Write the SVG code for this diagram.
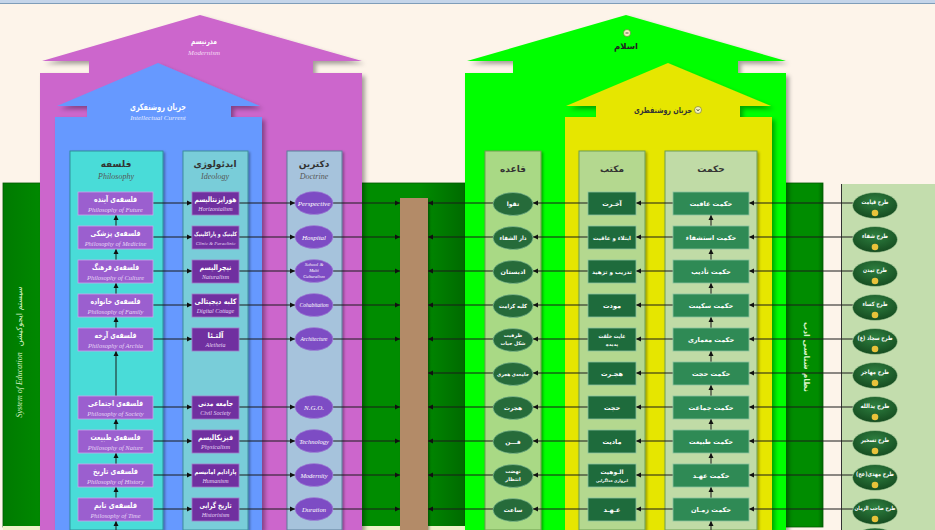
<svg xmlns="http://www.w3.org/2000/svg" width="935" height="530" viewBox="0 0 935 530">
<defs>
<style>
.fa{font-family:"DejaVu Sans","Noto Sans",sans-serif;font-weight:bold;text-anchor:middle}
.en{font-family:"Liberation Serif",serif;font-style:italic;text-anchor:middle}
.hd{font-size:9px;fill:#333}
.hde{font-size:8px;fill:#555}
.pn{fill:#9B5FCF;stroke:#C9A6EC;stroke-width:0.8}
.idn{fill:#7030A0;stroke:#A27CC8;stroke-width:0.8}
.dn{fill:#7D4CC4;stroke:#A58AD8;stroke-width:0.6}
.hk{fill:#2F8A55;stroke:#8CC4A0;stroke-width:0.8}
.mk{fill:#1E6B3C;stroke:#8CC4A0;stroke-width:0.8}
.qe{fill:#266B3A;stroke:#8CC4A0;stroke-width:0.6}
.rp{fill:url(#gEl);stroke:#B8D8A8;stroke-width:0.6}
.w1{font-size:8px;fill:#fff}
.w2{font-size:6.5px;fill:#E6D6F6}
.w3{font-size:7.5px;fill:#fff}
.w4{font-size:6px;fill:#E6D6F6}
.w5{font-size:6px;fill:#fff}
.w6{font-size:6.5px;fill:#fff}
.w7{font-size:6px;fill:#fff}
.cn line{stroke:#1a1a1a;stroke-width:1;fill:none}
.ar{marker-end:url(#ah)}
</style>
<marker id="ah" markerUnits="userSpaceOnUse" markerWidth="6" markerHeight="6" refX="5" refY="3" orient="auto"><path d="M0,0.5 L5,3 L0,5.5 Z" fill="#111"/></marker>
<filter id="sh" x="-10%" y="-10%" width="130%" height="130%"><feDropShadow dx="3" dy="3" stdDeviation="2" flood-color="#000" flood-opacity="0.35"/></filter>
<filter id="sh2" x="-10%" y="-10%" width="130%" height="130%"><feDropShadow dx="1.5" dy="1.5" stdDeviation="1" flood-color="#000" flood-opacity="0.35"/></filter>
<radialGradient id="gEl" cx="50%" cy="35%" r="60%"><stop offset="0" stop-color="#2E8040"/><stop offset="1" stop-color="#174F22"/></radialGradient>
<linearGradient id="gDg" x1="0" y1="0" x2="1" y2="0"><stop offset="0" stop-color="#007A00"/><stop offset="0.1" stop-color="#008C00"/><stop offset="0.9" stop-color="#008C00"/><stop offset="1" stop-color="#006A00"/></linearGradient>
</defs>

<rect x="0" y="0" width="935" height="530" fill="#FDF4EA"/>
<rect x="0" y="0" width="935" height="3" fill="#C5D5EA"/>
<line x1="0" y1="3.5" x2="935" y2="3.5" stroke="#7F9DB9" stroke-width="1"/>

<g id="band-left">
<rect x="3" y="183" width="462" height="344" fill="url(#gDg)" stroke="#005A00" stroke-width="0.8"/>
<rect x="3" y="526" width="462" height="4" fill="#EEF2C8"/>
<text transform="translate(22,352) rotate(-90)" text-anchor="middle" fill="#D8F2C8" font-size="8"><tspan font-family="Liberation Serif,serif" font-style="italic">System of Education</tspan><tspan font-family="DejaVu Sans,sans-serif" dx="6">سیستم ایجوکیشن</tspan></text>
</g>
<g id="band-right">
<rect x="772" y="183" width="51" height="344" fill="url(#gDg)" stroke="#005A00" stroke-width="0.8"/>
<text class="fa" transform="translate(804,357) rotate(90)" fill="#D8F2C8" font-size="8" font-weight="normal">نظام شناسی ادب</text>
</g>
<g id="panel-right">
<rect x="841" y="184" width="94" height="346" fill="#C3DDAD"/>
<line x1="841.5" y1="184" x2="841.5" y2="530" stroke="#333" stroke-width="1"/>
</g>

<g id="modernism">
<path d="M42,61 L200,15 L362,61 L313,61 L313,73 L362,73 L362,530 L40,530 L40,73 L89,73 L89,61 Z" fill="#CC66CC" filter="url(#sh)"/>
<text class="fa" x="204" y="44" font-size="8" fill="#fff" textLength="26" lengthAdjust="spacingAndGlyphs">مدرنیسم</text>
<text class="en" x="204" y="55" font-size="7" fill="#F4DDF4">Modernism</text>
</g>
<g id="intellectual-current">
<path d="M57,106 L158,63 L260,106 L231,106 L231,117 L262,117 L262,530 L55,530 L55,117 L87,117 L87,106 Z" fill="#6699FF" filter="url(#sh)"/>
<text class="fa" x="158" y="110" font-size="9" fill="#fff" textLength="56" lengthAdjust="spacingAndGlyphs">جریان روشنفکری</text>
<text class="en" x="158" y="120" font-size="7" fill="#E6EEFF">Intellectual Current</text>
</g>

<g id="islam">
<path d="M467,61 L626,15 L786,61 L738,61 L738,73 L786,73 L786,530 L465,530 L465,73 L513,73 L513,61 Z" fill="#00FF00" filter="url(#sh)"/>
<circle cx="627" cy="33" r="3.5" fill="#F2F2C0" stroke="#6A6A30" stroke-width="0.6"/>
<line x1="625.5" y1="33" x2="628.5" y2="33" stroke="#333" stroke-width="0.8"/>
<text class="fa" x="626" y="49" font-size="8.5" fill="#222" textLength="24" lengthAdjust="spacingAndGlyphs">اسلام</text>
</g>
<g id="roshanfetri">
<path d="M566,106 L668,63 L771,106 L740,106 L740,117 L772,117 L772,530 L565,530 L565,117 L596,117 L596,106 Z" fill="#E6E600" filter="url(#sh)"/>
<text class="fa" x="663" y="113" font-size="8.5" fill="#333" textLength="58" lengthAdjust="spacingAndGlyphs">جریان روشنفطری</text>
<circle cx="698" cy="110" r="3.5" fill="#F2F2C0" stroke="#6A6A30" stroke-width="0.6"/>
<path d="M696.5,109 L698,111 L699.5,109" stroke="#333" stroke-width="0.7" fill="none"/>
</g>

<g id="col-philosophy">
<rect x="70" y="151" width="93" height="379" fill="#4ADCD8" stroke="#2E8E9A" stroke-width="1" filter="url(#sh2)"/>
<text class="fa hd" x="116" y="167">فلسفه</text>
<text class="en hde" x="116" y="179">Philosophy</text>
</g>
<g id="col-ideology">
<rect x="183" y="151" width="65" height="379" fill="#79CDD9" stroke="#3E8E9E" stroke-width="1" filter="url(#sh2)"/>
<text class="fa hd" x="215" y="167">ایدئولوژی</text>
<text class="en hde" x="215" y="179">Ideology</text>
</g>
<g id="col-doctrine">
<rect x="287" y="151" width="55" height="379" fill="#A6C3DC" stroke="#5E7E9A" stroke-width="1" filter="url(#sh2)"/>
<text class="fa hd" x="314" y="167">دکترین</text>
<text class="en hde" x="314" y="179">Doctrine</text>
</g>
<g id="col-qaede">
<rect x="485" y="151" width="56" height="379" fill="#A9D985" stroke="#6E9E50" stroke-width="1" filter="url(#sh2)"/>
<text class="fa hd" x="513" y="172">قاعده</text>
</g>
<g id="col-maktab">
<rect x="579" y="151" width="66" height="379" fill="#B4D88F" stroke="#6E9E50" stroke-width="1" filter="url(#sh2)"/>
<text class="fa hd" x="612" y="172">مکتب</text>
</g>
<g id="col-hekmat">
<rect x="665" y="151" width="92" height="379" fill="#C0DBA6" stroke="#6E9E50" stroke-width="1" filter="url(#sh2)"/>
<text class="fa hd" x="711" y="172">حکمت</text>
</g>

<g id="bar-center">
<rect x="400" y="198" width="28" height="332" fill="#B38B68" filter="url(#sh2)"/>
</g>

<g id="connectors" class="cn">
<line class="ar" x1="116" y1="226" x2="116" y2="215"/>
<line class="ar" x1="116" y1="260" x2="116" y2="249"/>
<line class="ar" x1="116" y1="294" x2="116" y2="283"/>
<line class="ar" x1="116" y1="328" x2="116" y2="317"/>
<line class="ar" x1="116" y1="396" x2="116" y2="351"/>
<line class="ar" x1="116" y1="430" x2="116" y2="419"/>
<line class="ar" x1="116" y1="464" x2="116" y2="453"/>
<line class="ar" x1="116" y1="498" x2="116" y2="487"/>
<line class="ar" x1="116" y1="530" x2="116" y2="521"/>
<line class="ar" x1="711" y1="226" x2="711" y2="215"/>
<line class="ar" x1="711" y1="260" x2="711" y2="249"/>
<line class="ar" x1="711" y1="294" x2="711" y2="283"/>
<line class="ar" x1="711" y1="328" x2="711" y2="317"/>
<line class="ar" x1="711" y1="362" x2="711" y2="351"/>
<line class="ar" x1="711" y1="396" x2="711" y2="385"/>
<line class="ar" x1="711" y1="430" x2="711" y2="419"/>
<line class="ar" x1="711" y1="464" x2="711" y2="453"/>
<line class="ar" x1="711" y1="498" x2="711" y2="487"/>
<line class="ar" x1="711" y1="530" x2="711" y2="521"/>
<line class="ar" x1="153" y1="203" x2="192" y2="203"/><line class="ar" x1="239" y1="203" x2="295" y2="203"/><line class="ar" x1="333" y1="203" x2="400" y2="203"/>
<line class="ar" x1="153" y1="237" x2="192" y2="237"/><line class="ar" x1="239" y1="237" x2="295" y2="237"/><line class="ar" x1="333" y1="237" x2="400" y2="237"/>
<line class="ar" x1="153" y1="271" x2="192" y2="271"/><line class="ar" x1="239" y1="271" x2="295" y2="271"/><line class="ar" x1="333" y1="271" x2="400" y2="271"/>
<line class="ar" x1="153" y1="305" x2="192" y2="305"/><line class="ar" x1="239" y1="305" x2="295" y2="305"/><line class="ar" x1="333" y1="305" x2="400" y2="305"/>
<line class="ar" x1="153" y1="339" x2="192" y2="339"/><line class="ar" x1="239" y1="339" x2="295" y2="339"/><line class="ar" x1="333" y1="339" x2="400" y2="339"/>
<line class="ar" x1="153" y1="407" x2="192" y2="407"/><line class="ar" x1="239" y1="407" x2="295" y2="407"/><line class="ar" x1="333" y1="407" x2="400" y2="407"/>
<line class="ar" x1="153" y1="441" x2="192" y2="441"/><line class="ar" x1="239" y1="441" x2="295" y2="441"/><line class="ar" x1="333" y1="441" x2="400" y2="441"/>
<line class="ar" x1="153" y1="475" x2="192" y2="475"/><line class="ar" x1="239" y1="475" x2="295" y2="475"/><line class="ar" x1="333" y1="475" x2="400" y2="475"/>
<line class="ar" x1="153" y1="509" x2="192" y2="509"/><line class="ar" x1="239" y1="509" x2="295" y2="509"/><line class="ar" x1="333" y1="509" x2="400" y2="509"/>
<line class="ar" x1="853" y1="203" x2="749" y2="203"/><line class="ar" x1="673" y1="203" x2="636" y2="203"/><line class="ar" x1="588" y1="203" x2="533" y2="203"/><line class="ar" x1="493" y1="203" x2="428" y2="203"/>
<line class="ar" x1="853" y1="237" x2="749" y2="237"/><line class="ar" x1="673" y1="237" x2="636" y2="237"/><line class="ar" x1="588" y1="237" x2="533" y2="237"/><line class="ar" x1="493" y1="237" x2="428" y2="237"/>
<line class="ar" x1="853" y1="271" x2="749" y2="271"/><line class="ar" x1="673" y1="271" x2="636" y2="271"/><line class="ar" x1="588" y1="271" x2="533" y2="271"/><line class="ar" x1="493" y1="271" x2="428" y2="271"/>
<line class="ar" x1="853" y1="305" x2="749" y2="305"/><line class="ar" x1="673" y1="305" x2="636" y2="305"/><line class="ar" x1="588" y1="305" x2="533" y2="305"/><line class="ar" x1="493" y1="305" x2="428" y2="305"/>
<line class="ar" x1="853" y1="339" x2="749" y2="339"/><line class="ar" x1="673" y1="339" x2="636" y2="339"/><line class="ar" x1="588" y1="339" x2="533" y2="339"/><line class="ar" x1="493" y1="339" x2="428" y2="339"/>
<line class="ar" x1="853" y1="373" x2="749" y2="373"/><line class="ar" x1="673" y1="373" x2="636" y2="373"/><line class="ar" x1="588" y1="373" x2="533" y2="373"/><line class="ar" x1="493" y1="373" x2="428" y2="373"/>
<line class="ar" x1="853" y1="407" x2="749" y2="407"/><line class="ar" x1="673" y1="407" x2="636" y2="407"/><line class="ar" x1="588" y1="407" x2="533" y2="407"/><line class="ar" x1="493" y1="407" x2="428" y2="407"/>
<line class="ar" x1="853" y1="441" x2="749" y2="441"/><line class="ar" x1="673" y1="441" x2="636" y2="441"/><line class="ar" x1="588" y1="441" x2="533" y2="441"/><line class="ar" x1="493" y1="441" x2="428" y2="441"/>
<line class="ar" x1="853" y1="475" x2="749" y2="475"/><line class="ar" x1="673" y1="475" x2="636" y2="475"/><line class="ar" x1="588" y1="475" x2="533" y2="475"/><line class="ar" x1="493" y1="475" x2="428" y2="475"/>
<line class="ar" x1="853" y1="509" x2="749" y2="509"/><line class="ar" x1="673" y1="509" x2="636" y2="509"/><line class="ar" x1="588" y1="509" x2="533" y2="509"/><line class="ar" x1="493" y1="509" x2="428" y2="509"/>
</g>

<g id="p1"><rect class="pn" x="78" y="192" width="75" height="23"/><text class="fa w1" x="115.5" y="202" textLength="43" lengthAdjust="spacingAndGlyphs">فلسفه‌ی آینده</text><text class="en w2" x="115.5" y="211.5">Philosophy of Future</text></g>
<g id="p2"><rect class="pn" x="78" y="226" width="75" height="23"/><text class="fa w1" x="115.5" y="236" textLength="50" lengthAdjust="spacingAndGlyphs">فلسفه‌ی پزشکی</text><text class="en w2" x="115.5" y="245.5">Philosophy of Medicine</text></g>
<g id="p3"><rect class="pn" x="78" y="260" width="75" height="23"/><text class="fa w1" x="115.5" y="270" textLength="47" lengthAdjust="spacingAndGlyphs">فلسفه‌ی فرهنگ</text><text class="en w2" x="115.5" y="279.5">Philosophy of Culture</text></g>
<g id="p4"><rect class="pn" x="78" y="294" width="75" height="23"/><text class="fa w1" x="115.5" y="304" textLength="50" lengthAdjust="spacingAndGlyphs">فلسفه‌ی خانواده</text><text class="en w2" x="115.5" y="313.5">Philosophy of Family</text></g>
<g id="p5"><rect class="pn" x="78" y="328" width="75" height="23"/><text class="fa w1" x="115.5" y="338" textLength="42" lengthAdjust="spacingAndGlyphs">فلسفه‌ی آرخه</text><text class="en w2" x="115.5" y="347.5">Philosophy of Archia</text></g>
<g id="p6"><rect class="pn" x="78" y="396" width="75" height="23"/><text class="fa w1" x="115.5" y="406" textLength="55" lengthAdjust="spacingAndGlyphs">فلسفه‌ی اجتماعی</text><text class="en w2" x="115.5" y="415.5">Philosophy of Society</text></g>
<g id="p7"><rect class="pn" x="78" y="430" width="75" height="23"/><text class="fa w1" x="115.5" y="440" textLength="50" lengthAdjust="spacingAndGlyphs">فلسفه‌ی طبیعت</text><text class="en w2" x="115.5" y="449.5">Philosophy of Nature</text></g>
<g id="p8"><rect class="pn" x="78" y="464" width="75" height="23"/><text class="fa w1" x="115.5" y="474" textLength="45" lengthAdjust="spacingAndGlyphs">فلسفه‌ی تاریخ</text><text class="en w2" x="115.5" y="483.5">Philosophy of History</text></g>
<g id="p9"><rect class="pn" x="78" y="498" width="75" height="23"/><text class="fa w1" x="115.5" y="508" textLength="43" lengthAdjust="spacingAndGlyphs">فلسفه‌ی تایم</text><text class="en w2" x="115.5" y="517.5">Philosophy of Time</text></g>

<g id="i1"><rect class="idn" x="192" y="192" width="47" height="23"/><text class="fa w3" x="215.5" y="202" textLength="42" lengthAdjust="spacingAndGlyphs">هورایزنتالیسم</text><text class="en w4" x="215.5" y="211">Horizontalism</text></g>
<g id="i2"><rect class="idn" x="192" y="226" width="47" height="23"/><text class="fa" x="215.5" y="235.5" font-size="6" fill="#fff" textLength="43" lengthAdjust="spacingAndGlyphs">کلینیک و پاراکلینیک</text><text class="en" x="215.5" y="245" font-size="5" fill="#E6D6F6">Clinic &amp; Paraclinic</text></g>
<g id="i3"><rect class="idn" x="192" y="260" width="47" height="23"/><text class="fa w3" x="215.5" y="270" textLength="32" lengthAdjust="spacingAndGlyphs">نیچرالیسم</text><text class="en w4" x="215.5" y="279">Naturalism</text></g>
<g id="i4"><rect class="idn" x="192" y="294" width="47" height="23"/><text class="fa w3" x="215.5" y="304" textLength="42" lengthAdjust="spacingAndGlyphs">کلبه دیجیتالی</text><text class="en w4" x="215.5" y="313">Digital Cottage</text></g>
<g id="i5"><rect class="idn" x="192" y="328" width="47" height="23"/><text class="fa w3" x="215.5" y="338" textLength="16" lengthAdjust="spacingAndGlyphs">آلتـئا</text><text class="en w4" x="215.5" y="347">Aletheia</text></g>
<g id="i6"><rect class="idn" x="192" y="396" width="47" height="23"/><text class="fa w3" x="215.5" y="406" textLength="35" lengthAdjust="spacingAndGlyphs">جامعه مدنی</text><text class="en w4" x="215.5" y="415">Civil Society</text></g>
<g id="i7"><rect class="idn" x="192" y="430" width="47" height="23"/><text class="fa w3" x="215.5" y="440" textLength="35" lengthAdjust="spacingAndGlyphs">فیزیکالیسم</text><text class="en w4" x="215.5" y="449">Physicalism</text></g>
<g id="i8"><rect class="idn" x="192" y="464" width="47" height="23"/><text class="fa" x="215.5" y="474" font-size="6.5" fill="#fff" textLength="42" lengthAdjust="spacingAndGlyphs">پارادایم امانیسم</text><text class="en w4" x="215.5" y="483">Humanism</text></g>
<g id="i9"><rect class="idn" x="192" y="498" width="47" height="23"/><text class="fa w3" x="215.5" y="508" textLength="32" lengthAdjust="spacingAndGlyphs">تاریخ گرایی</text><text class="en w4" x="215.5" y="517">Historisism</text></g>

<g id="d1"><ellipse class="dn" cx="314" cy="203" rx="19" ry="11.5"/><text class="en" x="314" y="205.5" font-size="7" fill="#fff">Perspective</text></g>
<g id="d2"><ellipse class="dn" cx="314" cy="237" rx="19" ry="11.5"/><text class="en" x="314" y="239.5" font-size="7" fill="#fff">Hospital</text></g>
<g id="d3"><ellipse class="dn" cx="314" cy="271" rx="19" ry="11.5"/><text class="en" x="314" y="266" font-size="5" fill="#fff">School &amp;</text><text class="en" x="314" y="272" font-size="4.5" fill="#fff">Multi</text><text class="en" x="314" y="277.5" font-size="4.5" fill="#fff">Culturalism</text></g>
<g id="d4"><ellipse class="dn" cx="314" cy="305" rx="19" ry="11.5"/><text class="en" x="314" y="307" font-size="5.5" fill="#fff">Cohabitation</text></g>
<g id="d5"><ellipse class="dn" cx="314" cy="339" rx="19" ry="11.5"/><text class="en" x="314" y="341" font-size="5.5" fill="#fff">Architecture</text></g>
<g id="d6"><ellipse class="dn" cx="314" cy="407" rx="19" ry="11.5"/><text class="en" x="314" y="409.5" font-size="7" fill="#fff">N.G.O.</text></g>
<g id="d7"><ellipse class="dn" cx="314" cy="441" rx="19" ry="11.5"/><text class="en" x="314" y="443.5" font-size="6.5" fill="#fff">Technology</text></g>
<g id="d8"><ellipse class="dn" cx="314" cy="475" rx="19" ry="11.5"/><text class="en" x="314" y="477.5" font-size="6.5" fill="#fff">Modernity</text></g>
<g id="d9"><ellipse class="dn" cx="314" cy="509" rx="19" ry="11.5"/><text class="en" x="314" y="511.5" font-size="6.5" fill="#fff">Duration</text></g>

<g id="q1"><ellipse class="qe" cx="513" cy="204" rx="20" ry="11.5"/><text class="fa w5" x="513" y="206">تقوا</text></g>
<g id="q2"><ellipse class="qe" cx="513" cy="238" rx="20" ry="11.5"/><text class="fa w5" x="513" y="240" textLength="27" lengthAdjust="spacingAndGlyphs">دار الشفاء</text></g>
<g id="q3"><ellipse class="qe" cx="513" cy="272" rx="20" ry="11.5"/><text class="fa w5" x="513" y="274" textLength="25" lengthAdjust="spacingAndGlyphs">ادبستان</text></g>
<g id="q4"><ellipse class="qe" cx="513" cy="306" rx="20" ry="11.5"/><text class="fa" x="513" y="308" font-size="5.5" fill="#fff" textLength="28" lengthAdjust="spacingAndGlyphs">کلبه کرامت</text></g>
<g id="q5"><ellipse class="qe" cx="513" cy="340" rx="20" ry="11.5"/><text class="fa" x="513" y="337" font-size="5" fill="#fff">ظرفیت</text><text class="fa" x="513" y="345" font-size="5" fill="#fff" textLength="25" lengthAdjust="spacingAndGlyphs">شکل حیات</text></g>
<g id="q6"><ellipse class="qe" cx="513" cy="374" rx="20" ry="11.5"/><text class="fa" x="513" y="376" font-size="5" fill="#fff" textLength="32" lengthAdjust="spacingAndGlyphs">جامعه‌ی هجری</text></g>
<g id="q7"><ellipse class="qe" cx="513" cy="408" rx="20" ry="11.5"/><text class="fa w5" x="513" y="410">هجرت</text></g>
<g id="q8"><ellipse class="qe" cx="513" cy="442" rx="20" ry="11.5"/><text class="fa w5" x="513" y="444">فـــن</text></g>
<g id="q9"><ellipse class="qe" cx="513" cy="476" rx="20" ry="11.5"/><text class="fa" x="513" y="473" font-size="5" fill="#fff">نهضت</text><text class="fa" x="513" y="481" font-size="5" fill="#fff">انتظار</text></g>
<g id="q10"><ellipse class="qe" cx="513" cy="510" rx="20" ry="11.5"/><text class="fa w5" x="513" y="512">ساعت</text></g>

<g id="m1"><rect class="mk" x="588" y="192" width="48" height="23"/><text class="fa w6" x="612" y="205.5">آخـرت</text></g>
<g id="m2"><rect class="mk" x="588" y="226" width="48" height="23"/><text class="fa" x="612" y="239.5" font-size="5.5" fill="#fff" textLength="38" lengthAdjust="spacingAndGlyphs">ابتلاء و عاقبت</text></g>
<g id="m3"><rect class="mk" x="588" y="260" width="48" height="23"/><text class="fa" x="612" y="273.5" font-size="5.5" fill="#fff" textLength="40" lengthAdjust="spacingAndGlyphs">تدریب و تزهید</text></g>
<g id="m4"><rect class="mk" x="588" y="294" width="48" height="23"/><text class="fa w6" x="612" y="307.5">مودت</text></g>
<g id="m5"><rect class="mk" x="588" y="328" width="48" height="23"/><text class="fa" x="612" y="337.5" font-size="5.5" fill="#fff" textLength="27" lengthAdjust="spacingAndGlyphs">غایت خلقت</text><text class="fa" x="612" y="346" font-size="5" fill="#fff">پدیده</text></g>
<g id="m6"><rect class="mk" x="588" y="362" width="48" height="23"/><text class="fa w6" x="612" y="375.5">هجـرت</text></g>
<g id="m7"><rect class="mk" x="588" y="396" width="48" height="23"/><text class="fa w6" x="612" y="409.5">حجت</text></g>
<g id="m8"><rect class="mk" x="588" y="430" width="48" height="23"/><text class="fa w6" x="612" y="443.5">مادیت</text></g>
<g id="m9"><rect class="mk" x="588" y="464" width="48" height="23"/><text class="fa" x="612" y="473.5" font-size="6" fill="#fff">الـوهیت</text><text class="fa" x="612" y="482" font-size="4" fill="#fff" textLength="32" lengthAdjust="spacingAndGlyphs">ابرواژی خداگرایی</text></g>
<g id="m10"><rect class="mk" x="588" y="498" width="48" height="23"/><text class="fa w6" x="612" y="511.5">عـهـد</text></g>

<g id="h1"><rect class="hk" x="673" y="192" width="76" height="23"/><text class="fa w6" x="711" y="205.5">حکمت عاقبت</text></g>
<g id="h2"><rect class="hk" x="673" y="226" width="76" height="23"/><text class="fa w6" x="711" y="239.5">حکمت استشفاء</text></g>
<g id="h3"><rect class="hk" x="673" y="260" width="76" height="23"/><text class="fa w6" x="711" y="273.5">حکمت تأدیب</text></g>
<g id="h4"><rect class="hk" x="673" y="294" width="76" height="23"/><text class="fa w6" x="711" y="307.5">حکمت سکینت</text></g>
<g id="h5"><rect class="hk" x="673" y="328" width="76" height="23"/><text class="fa w6" x="711" y="341.5">حکمت معماری</text></g>
<g id="h6"><rect class="hk" x="673" y="362" width="76" height="23"/><text class="fa w6" x="711" y="375.5">حکمت حجت</text></g>
<g id="h7"><rect class="hk" x="673" y="396" width="76" height="23"/><text class="fa w6" x="711" y="409.5">حکمت جماعت</text></g>
<g id="h8"><rect class="hk" x="673" y="430" width="76" height="23"/><text class="fa w6" x="711" y="443.5">حکمت طبیعت</text></g>
<g id="h9"><rect class="hk" x="673" y="464" width="76" height="23"/><text class="fa w6" x="711" y="477.5">حکمت عهـد</text></g>
<g id="h10"><rect class="hk" x="673" y="498" width="76" height="23"/><text class="fa w6" x="711" y="511.5">حکمت زمـان</text></g>

<g id="t1"><ellipse class="rp" cx="875" cy="205.5" rx="22.5" ry="13"/><text class="fa w7" x="875" y="204" textLength="27" lengthAdjust="spacingAndGlyphs">طرح قیامت</text><circle cx="875" cy="213" r="3.3" fill="#E8C23A"/></g>
<g id="t2"><ellipse class="rp" cx="875" cy="239.5" rx="22.5" ry="13"/><text class="fa w7" x="875" y="238" textLength="26" lengthAdjust="spacingAndGlyphs">طرح شفاء</text><circle cx="875" cy="247" r="3.3" fill="#E8C23A"/></g>
<g id="t3"><ellipse class="rp" cx="875" cy="273.5" rx="22.5" ry="13"/><text class="fa w7" x="875" y="272" textLength="24" lengthAdjust="spacingAndGlyphs">طرح تمدن</text><circle cx="875" cy="281" r="3.3" fill="#E8C23A"/></g>
<g id="t4"><ellipse class="rp" cx="875" cy="307.5" rx="22.5" ry="13"/><text class="fa w7" x="875" y="306" textLength="25" lengthAdjust="spacingAndGlyphs">طرح کساء</text><circle cx="875" cy="315" r="3.3" fill="#E8C23A"/></g>
<g id="t5"><ellipse class="rp" cx="875" cy="341.5" rx="22.5" ry="13"/><text class="fa w7" x="875" y="340" textLength="35" lengthAdjust="spacingAndGlyphs">طرح سجاد (ع)</text><circle cx="875" cy="349" r="3.3" fill="#E8C23A"/></g>
<g id="t6"><ellipse class="rp" cx="875" cy="375.5" rx="22.5" ry="13"/><text class="fa w7" x="875" y="374" textLength="28" lengthAdjust="spacingAndGlyphs">طرح مهاجر</text><circle cx="875" cy="383" r="3.3" fill="#E8C23A"/></g>
<g id="t7"><ellipse class="rp" cx="875" cy="409.5" rx="22.5" ry="13"/><text class="fa w7" x="875" y="408" textLength="29" lengthAdjust="spacingAndGlyphs">طرح یدالله</text><circle cx="875" cy="417" r="3.3" fill="#E8C23A"/></g>
<g id="t8"><ellipse class="rp" cx="875" cy="443.5" rx="22.5" ry="13"/><text class="fa w7" x="875" y="442" textLength="28" lengthAdjust="spacingAndGlyphs">طرح تسخیر</text><circle cx="875" cy="451" r="3.3" fill="#E8C23A"/></g>
<g id="t9"><ellipse class="rp" cx="875" cy="477.5" rx="22.5" ry="13"/><text class="fa w7" x="875" y="476" textLength="38" lengthAdjust="spacingAndGlyphs">طرح مهدی(عج)</text><circle cx="875" cy="485" r="3.3" fill="#E8C23A"/></g>
<g id="t10"><ellipse class="rp" cx="875" cy="511.5" rx="22.5" ry="13"/><text class="fa" x="875" y="510" font-size="5.5" fill="#fff" textLength="41" lengthAdjust="spacingAndGlyphs">طرح صاحب الزمان</text><circle cx="875" cy="519" r="3.3" fill="#E8C23A"/></g>
<g id="t11"><ellipse class="rp" cx="875" cy="541" rx="22.5" ry="13"/></g>
</svg>
